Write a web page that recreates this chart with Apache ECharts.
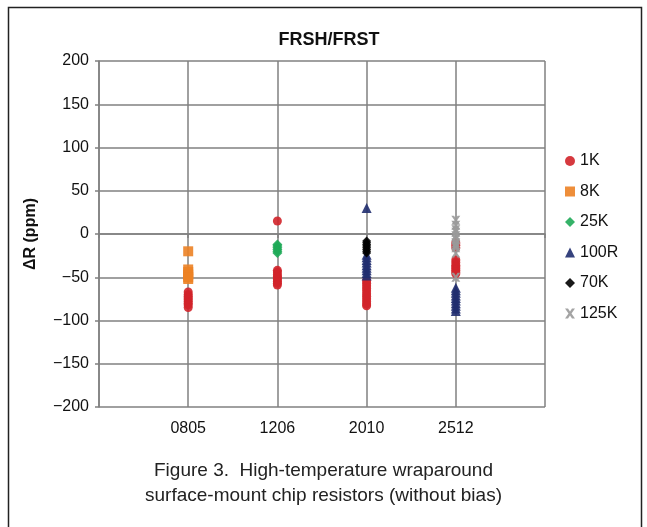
<!DOCTYPE html>
<html><head><meta charset="utf-8">
<script src="https://cdn.jsdelivr.net/npm/echarts@6/dist/echarts.min.js"></script>
<style>html,body{margin:0;padding:0;background:#fff}#c{width:647px;height:527px}</style>
</head><body><div id="c"></div>
<script>
const categories = ['', '0805', '1206', '2010', '2512', ''];
const yTicks = [-200, -150, -100, -50, 0, 50, 100, 150, 200];

// 1K (red circles)
const k1_0805 = [-67, -70, -72, -74, -76, -78, -80, -82, -85];
const k1_1206 = [15, -42, -44, -47, -49, -51, -53, -55, -57, -59];
const k1_2010 = [-54, -57, -60, -63, -66, -69, -72, -75, -78, -81, -83];
const k1_2512 = [-10, -13, -16, -30, -33, -36, -38, -40, -42, -44, -46];
// 8K (orange squares)
const k8_0805 = [-20, -41, -44, -47, -50, -52];
// 25K (green diamonds)
const k25_1206 = [-12, -14, -16, -18, -20, -22];
// 100R (navy triangles)
const r100_2010 = [30, -24, -27, -30, -33, -36, -39, -42, -45, -48];
const r100_2512 = [-62, -65, -68, -71, -74, -77, -80, -83, -86, -89];
// 70K (black diamonds)
const k70_2010 = [-8, -10, -12, -14, -16, -18, -20, -22];
// 125K (gray crosses)
const k125_2512 = [16, 10, 5, 2, -2, -6, -10, -12, -14, -16, -22, -50];

function pts(cat, vals) { return vals.map(v => [cat, v]); }

const FONT = 'Liberation Sans, Arial, sans-serif';
const crossPath = 'path://M0,0 L3,0 L5,3 L7,0 L10,0 L6.5,5 L10,10 L7,10 L5,7 L3,10 L0,10 L3.5,5 Z';

const seriesDefs = [
  { name: '1K', symbol: 'circle', size: 9, color: '#d1232a',
    data: [].concat(pts('0805', k1_0805), pts('1206', k1_1206), pts('2010', k1_2010), pts('2512', k1_2512)) },
  { name: '8K', symbol: 'rect', size: 10, color: '#ec8225',
    data: pts('0805', k8_0805) },
  { name: '25K', symbol: 'diamond', size: 10, color: '#1faa58',
    data: pts('1206', k25_1206) },
  { name: '100R', symbol: 'triangle', size: 10, color: '#202d6f',
    data: [].concat(pts('2010', r100_2010), pts('2512', r100_2512)) },
  { name: '70K', symbol: 'diamond', size: 9, color: '#000000',
    data: pts('2010', k70_2010) },
  { name: '125K', symbol: crossPath, size: 9, color: '#9a9a9a',
    data: pts('2512', k125_2512) }
];

const chart = echarts.init(document.getElementById('c'), null, { renderer: 'canvas' });
chart.setOption({
  animation: false,
  backgroundColor: '#fff',
  textStyle: { fontFamily: FONT },
  title: {
    text: 'FRSH/FRST', left: 324, top: 26, textAlign: 'center',
    textStyle: { fontFamily: FONT, fontSize: 18, fontWeight: 'bold', color: '#111' }
  },
  legend: {
    orient: 'vertical', left: 560, top: 148, itemGap: 14.5,
    itemWidth: 10, itemHeight: 10,
    textStyle: { fontFamily: FONT, fontSize: 16, color: '#111' },
    data: seriesDefs.map(s => ({ name: s.name, icon: s.symbol }))
  },
  grid: { left: 99, right: 102, top: 61, bottom: 120, containLabel: false },
  xAxis: {
    type: 'category', data: categories, boundaryGap: false,
    axisLine: { lineStyle: { color: '#808080', width: 1.5 } },
    axisTick: { show: true, length: 4, lineStyle: { color: '#808080', width: 1.5 } },
    axisLabel: { fontFamily: FONT, fontSize: 16, color: '#111', margin: 14, interval: 0 },
    splitLine: { show: true, lineStyle: { color: '#808080', width: 1.5 } }
  },
  yAxis: {
    type: 'value', min: -200, max: 200, interval: 50,
    name: 'ΔR (ppm)', nameLocation: 'middle', nameGap: 60, nameRotate: 90,
    nameTextStyle: { fontFamily: FONT, fontSize: 16, fontWeight: 'bold', color: '#111' },
    axisLine: { show: true, lineStyle: { color: '#808080', width: 1.5 } },
    axisTick: { show: true, length: 4, lineStyle: { color: '#808080', width: 1.5 } },
    axisLabel: { fontFamily: FONT, fontSize: 16, color: '#111', margin: 10,
      formatter: v => String(v).replace('-', '\u2212') },
    splitLine: { show: true, lineStyle: { color: '#808080', width: 1.5 } }
  },
  series: seriesDefs.map(s => ({
    name: s.name, type: 'scatter', symbol: s.symbol, symbolSize: s.size,
    itemStyle: { color: s.color, opacity: 0.9 }, data: s.data, z: 3
  })),
  graphic: [
    { type: 'rect', left: 6, top: 5, shape: { width: 633, height: 540 },
      style: { fill: 'none', stroke: '#222', lineWidth: 1.5 }, silent: true },
    { type: 'text', left: 'center', top: 461,
      style: { text: 'Figure 3.  High-temperature wraparound', font: '19px ' + FONT, fill: '#222' } },
    { type: 'text', left: 'center', top: 486,
      style: { text: 'surface-mount chip resistors (without bias)', font: '19px ' + FONT, fill: '#222' } }
  ]
});
</script>
</body></html>
